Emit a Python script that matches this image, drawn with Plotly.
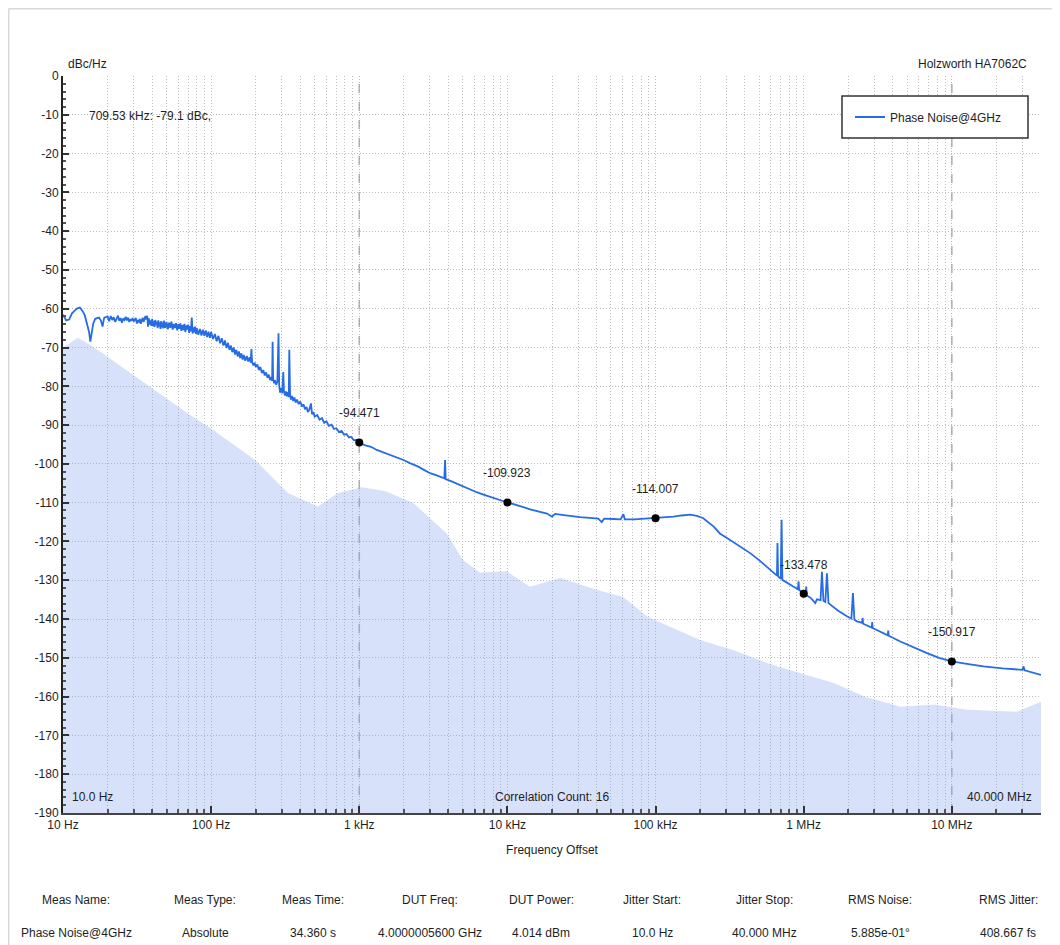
import math
import plotly.graph_objects as go

# ---------------- data ----------------
main_freq = [
    10, 10.5, 11, 11.5, 12, 12.5, 13, 13.5, 14, 14.5, 15, 15.3, 15.7, 16, 16.5, 17, 17.5, 18, 18.5, 18.8, 19,
    20, 20.5, 21, 21.5, 22, 22.5, 23, 23.5, 24, 24.5, 25, 25.5, 26, 26.5, 27, 27.5, 28, 28.5, 29, 29.5, 30,
    31, 31.5, 32, 32.5, 33, 33.5, 34, 34.5, 35, 35.5, 36, 36.5, 37, 37.5, 38, 38.5, 39, 39.5, 40, 40.5,
    41, 41.5, 42, 42.5, 43, 43.5, 44, 44.5, 45, 45.5, 46, 46.5, 47, 47.5, 48, 49, 50, 51, 52, 53, 54, 55,
    56, 57, 58, 59, 60, 61, 62, 63, 64, 65, 66, 67, 68, 69, 70, 71, 72, 73, 74, 75, 76, 77, 78, 79, 80,
    82, 84, 86, 88, 90, 92, 94, 96, 98, 100,
    103, 106, 109, 112, 115, 118, 121, 124, 127, 130, 133, 136, 139, 142, 145, 148, 151, 154, 157, 160,
    163, 166, 170, 174, 178, 182, 185, 187, 189, 193, 197, 200,
    205, 210, 215, 220, 225, 230, 235, 240, 245, 250, 255, 258, 260, 262, 266, 270, 275, 280, 285, 288,
    292, 297, 302, 307, 310, 315, 320, 325, 330, 334, 337, 341, 346, 352, 358, 365, 372, 380, 390, 400,
    410, 420, 430, 440, 450, 460, 472, 480, 490, 500, 520, 540, 560, 580, 600, 625, 650, 675, 700, 730,
    760, 790, 820, 850, 880, 920, 960, 1000,
    1100, 1200, 1312, 1450, 1600, 1800, 1986, 2200, 2500, 2750, 3006, 3300, 3600, 3750, 3795, 3830,
    4200, 4600, 5047, 5600, 6200, 6900, 7640, 8500, 9200, 10000,
    11000, 12500, 14230, 16500, 18500, 20000, 21000, 24000, 27000, 30960, 36000, 41000, 43370, 45000,
    52000, 58000, 60690, 62000, 72000, 85000, 100000,
    115000, 132000, 150000, 171400, 190000, 210000, 246000, 273000, 300000, 335700, 380000, 435500,
    500000, 564000, 620000, 660000, 665500, 672000, 700000, 709500, 718000, 771000, 850000, 915000,
    923500, 932000, 1000000,
    1030000, 1040000, 1050000, 1120000, 1197000, 1230000, 1300000, 1328000, 1360000, 1400000, 1436000,
    1470000, 1511000, 1700000, 1959000, 2100000, 2150000, 2200000, 2288000, 2480000, 2500000, 2520000,
    2880000, 2900000, 2920000, 3200000, 3460000, 3700000, 3720000, 3750000, 4490000, 5500000, 6800000,
    8200000, 10000000,
    12000000, 16370000, 22000000, 30000000, 30500000, 31000000, 40000000,
]
main_db = [
    -61.5, -63.0, -62.8, -61.2, -60.5, -59.9, -59.7, -60.5, -61.6, -63.5, -66.0, -68.5, -65.5, -63.8, -62.6, -62.4, -62.3, -63.0, -64.6, -63.0, -62.3,
    -62.0, -63.2, -61.9, -62.9, -62.2, -63.4, -62.6, -61.8, -63.1, -62.4, -63.6, -62.5, -62.9, -62.1, -63.0, -62.3, -63.4, -62.7, -63.1, -62.4, -63.3,
    -62.4, -63.8, -62.9, -63.5, -62.6, -63.9, -63.0, -62.3, -63.4, -62.2, -61.9, -62.8, -61.8, -64.6, -62.5, -64.1, -63.0, -64.4, -62.6, -64.5,
    -63.1, -64.7, -62.9, -64.2, -63.3, -65.0, -63.0, -64.6, -63.5, -65.2, -63.2, -64.8, -63.6, -65.1, -63.1, -64.9, -63.4, -65.3, -63.6, -64.9, -63.3, -65.4,
    -63.9, -65.0, -63.7, -65.6, -64.0, -65.2, -63.8, -65.7, -64.2, -65.5, -63.9, -66.0, -64.3, -65.4, -64.1, -66.2, -64.5, -65.8, -62.3, -66.4, -64.8, -66.1, -64.6, -66.5, -65.0,
    -66.7, -65.2, -66.9, -65.4, -67.0, -65.6, -67.3, -65.9, -67.5, -66.0,
    -67.8, -66.5, -68.4, -67.0, -68.9, -67.6, -69.5, -68.2, -70.1, -68.8, -70.6, -69.5, -71.2, -70.0, -71.8, -70.6, -72.3, -71.0, -72.7, -71.5,
    -73.1, -71.9, -73.4, -72.2, -73.6, -72.5, -73.9, -70.4, -73.8, -74.6, -73.9, -75.0,
    -74.4, -75.8, -75.0, -76.6, -75.8, -77.2, -76.4, -77.8, -77.0, -78.4, -77.6, -78.6, -68.5, -78.0, -79.2, -78.4, -79.6, -78.8, -66.3, -79.8,
    -81.6, -80.4, -81.8, -76.3, -81.2, -82.4, -81.3, -82.6, -81.5, -82.8, -70.6, -82.2, -83.4, -82.5, -83.8, -82.9, -84.2, -83.4, -84.6, -83.9,
    -85.2, -84.6, -85.9, -85.3, -86.6, -86.0, -84.4, -87.2, -86.6, -87.8, -87.4, -88.6, -88.2, -89.4, -89.0, -90.2, -89.9, -91.0, -90.8, -91.8,
    -91.5, -92.5, -92.3, -93.2, -93.0, -93.9, -93.8, -94.471,
    -95.2, -95.6, -96.4, -97.0, -97.6, -98.4, -99.0, -99.8, -100.7, -101.6, -102.4, -102.9, -103.5, -103.7, -99.0, -103.9,
    -104.5, -105.2, -105.8, -106.6, -107.3, -107.9, -108.4, -109.1, -109.5, -109.923,
    -110.3, -111.0, -111.7, -112.3, -112.8, -113.6, -112.9, -113.2, -113.5, -113.7, -113.9, -114.1, -115.0, -114.1,
    -114.2, -114.3, -113.0, -114.3, -114.3, -114.1, -114.007,
    -113.8, -113.6, -113.3, -113.1, -113.4, -114.0, -116.1, -118.0, -119.0, -120.2, -121.6, -123.0,
    -124.8, -126.5, -127.8, -128.8, -120.4, -129.0, -129.6, -114.4, -129.9, -130.7, -131.6, -132.3,
    -130.3, -132.5, -133.478,
    -133.7, -131.6, -133.9, -134.6, -135.9, -134.9, -135.1, -127.8, -135.3, -135.6, -128.2,
    -135.9, -136.3, -137.8, -139.3, -139.9, -133.3, -140.2, -140.6, -141.0, -139.7, -141.2,
    -142.2, -140.8, -142.3, -143.0, -143.6, -144.2, -143.0, -144.3, -145.8, -147.3, -148.8,
    -150.0, -150.917,
    -151.4, -152.2, -152.7, -153.1, -152.2, -153.2, -154.4,
]

floor_freq = [10, 12.6, 14.8, 17.8, 25, 41.7, 69.8, 101, 198, 330, 527, 718, 1040, 1490, 2300, 3870,
              5000, 6500, 9900, 14200, 22700, 40400, 60600, 88100, 200000, 334000, 565000, 939000,
              1600000, 2600000, 4500000, 7600000, 12700000, 27500000, 40000000]
floor_db = [-70, -67.5, -69, -71, -75, -81, -87, -91, -99, -107.5, -111, -107.5, -106, -107, -110, -117.8,
            -124.7, -128, -127.7, -131.7, -129.4, -132.5, -134.3, -139.4, -145.4, -148, -151.3, -153.9,
            -156.5, -160, -162.6, -162, -163.4, -163.9, -161.3]

marker_freq = [1e3, 1e4, 1e5, 1e6, 1e7]
marker_db = [-94.471, -109.923, -114.007, -133.478, -150.917]

x_tick_vals = [10, 100, 1e3, 1e4, 1e5, 1e6, 1e7]
x_tick_text = ["10 Hz", "100 Hz", "1 kHz", "10 kHz", "100 kHz", "1 MHz", "10 MHz"]
y_tick_vals = list(range(-190, 1, 10))

table_headers = ["Meas Name:", "Meas Type:", "Meas Time:", "DUT Freq:", "DUT Power:",
                 "Jitter Start:", "Jitter Stop:", "RMS Noise:", "RMS Jitter:"]
table_values = ["Phase Noise@4GHz", "Absolute", "34.360 s", "4.0000005600 GHz", "4.014 dBm",
                "10.0 Hz", "40.000 MHz", "5.885e-01°", "408.667 fs"]

# ---------------- layout constants ----------------
# the page body has an 8px margin, so the figure is 8px smaller in each direction
W, H = 1052, 937
L, R, T, B = 55, 19, 68, 132
PLOT_LEFT, PLOT_RIGHT, PLOT_TOP, PLOT_BOTTOM = 63, 1041, 76, 813   # page pixels
FONT = "Liberation Sans, Arial, sans-serif"
TXT = "#1e1e1e"
LINE_BLUE = "rgb(38,108,228)"
FILL_BLUE = "rgba(130,165,240,0.32)"
GRID = "#bdbdbd"
GRID_DASH = "1px,2px"

def px(xp):
    return (xp - PLOT_LEFT) / (PLOT_RIGHT - PLOT_LEFT)

def py(yp):
    return (PLOT_BOTTOM - yp) / (PLOT_BOTTOM - PLOT_TOP)

fig = go.Figure()

# noise floor (filled down to the axis bottom)
fig.add_trace(go.Scatter(x=[floor_freq[0], floor_freq[-1]], y=[-190, -190], mode="lines",
                         line=dict(width=0), hoverinfo="skip", showlegend=False))
fig.add_trace(go.Scatter(x=floor_freq, y=floor_db, mode="lines", line=dict(width=0, color=FILL_BLUE),
                         fill="tonexty", fillcolor=FILL_BLUE, showlegend=False, hoverinfo="skip"))

# main phase noise trace
fig.add_trace(go.Scatter(x=main_freq, y=main_db, mode="lines", name="Phase Noise@4GHz",
                         line=dict(color=LINE_BLUE, width=1.8)))

# markers
fig.add_trace(go.Scatter(x=marker_freq, y=marker_db, mode="markers", showlegend=False,
                         marker=dict(color="black", size=8)))

for f, v in zip(marker_freq, marker_db):
    fig.add_annotation(x=math.log10(f), y=v, xref="x", yref="y", text=f"{v:.3f}", showarrow=False,
                       yshift=29, font=dict(family=FONT, size=12, color=TXT))

# darker dashed vertical lines at 1 kHz and 10 MHz
for f in [1e3, 1e7]:
    fig.add_shape(type="line", xref="x", yref="paper", x0=f, x1=f, y0=0, y1=1,
                  line=dict(color="#a8a8a8", width=1.5, dash="dash"), layer="below")

# legend frame
fig.add_shape(type="rect", xref="paper", yref="paper", x0=px(842), x1=px(1028), y0=py(138), y1=py(96),
              line=dict(color="#333333", width=1.5), fillcolor="white", layer="above")

# outer frame (light grey)
fig.add_shape(type="line", xref="paper", yref="paper", x0=px(8.5), x1=px(8.5), y0=py(8.5), y1=py(945),
              line=dict(color="#d9d9d9", width=2))
fig.add_shape(type="line", xref="paper", yref="paper", x0=px(8.5), x1=px(1060), y0=py(8.5), y1=py(8.5),
              line=dict(color="#d9d9d9", width=2))

def text(xp, yp, s, anchor="left"):
    fig.add_annotation(xref="paper", yref="paper", x=px(xp), y=py(yp), text=s, showarrow=False,
                       xanchor=anchor, yanchor="middle", font=dict(family=FONT, size=12, color=TXT))

text(66, 64, "dBc/Hz")
text(1029, 64, "Holzworth HA7062C", "right")
text(87, 116, "709.53 kHz: -79.1 dBc,")
text(70, 797, "10.0 Hz")
text(552, 797, "Correlation Count: 16", "center")
text(1034, 797, "40.000 MHz", "right")

col_x = [76, 205, 313, 430, 541, 652, 764, 880, 1008]
for cx, hdr, val in zip(col_x, table_headers, table_values):
    text(cx, 900, hdr, "center")
    text(cx, 933, val, "center")

fig.update_layout(
    width=W, height=H,
    margin=dict(l=L, r=R, t=T, b=B, pad=0),
    paper_bgcolor="white", plot_bgcolor="white",
    font=dict(family=FONT, size=12, color=TXT),
    showlegend=True,
    legend=dict(x=px(850), y=py(117), xanchor="left", yanchor="middle", bgcolor="rgba(0,0,0,0)",
                borderwidth=0, font=dict(family=FONT, size=12, color=TXT)),
)

fig.update_xaxes(
    type="log", range=[1, 7.60206], tickmode="array", tickvals=x_tick_vals, ticktext=x_tick_text,
    ticks="inside", ticklen=7, tickwidth=1.5, tickcolor="#333",
    showline=True, linecolor="#444", linewidth=2, mirror=False,
    showgrid=True, gridcolor=GRID, griddash=GRID_DASH, gridwidth=1,
    minor=dict(dtick="D1", ticks="inside", ticklen=4, tickcolor="#555", showgrid=True,
               gridcolor=GRID, griddash=GRID_DASH, gridwidth=1),
    zeroline=False,
    title=dict(text="Frequency Offset", font=dict(family=FONT, size=12, color=TXT), standoff=14),
    tickfont=dict(family=FONT, size=12, color=TXT),
)
fig.update_yaxes(
    range=[-190, 0], tickmode="array", tickvals=y_tick_vals, ticktext=[str(v) for v in y_tick_vals],
    ticks="inside", ticklen=6, tickwidth=1.5, tickcolor="#333",
    showline=True, linecolor="#222", linewidth=2,
    showgrid=True, gridcolor=GRID, griddash=GRID_DASH, gridwidth=1,
    minor=dict(dtick=2, ticks="inside", ticklen=3, tickcolor="#555", showgrid=False),
    zeroline=False,
    tickfont=dict(family=FONT, size=12, color=TXT),
)

fig.write_html("out.html")
